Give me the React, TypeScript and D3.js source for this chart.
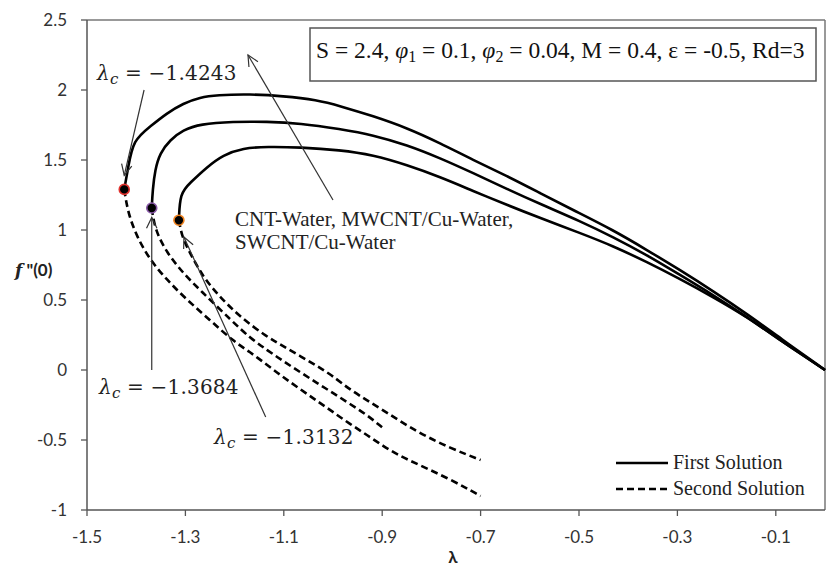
import React from "react";
import * as d3 from "d3";

// λ values and f''(0) for each nanofluid branch
const firstCNT: [number, number][] = [
  [-1.4243, 1.29], [-1.4161, 1.452], [-1.4059, 1.643], [-1.372, 1.738], [-1.338, 1.834],
  [-1.3043, 1.905], [-1.2703, 1.948], [-1.2364, 1.964], [-1.1687, 1.971], [-1.1016, 1.957],
  [-1.0325, 1.929], [-0.9858, 1.886], [-0.9187, 1.814], [-0.8496, 1.729], [-0.7825, 1.621],
  [-0.7154, 1.5], [-0.6463, 1.386], [-0.5793, 1.264], [-0.5122, 1.143], [-0.4309, 1.0],
  [-0.3618, 0.857], [-0.2947, 0.714], [-0.2276, 0.564], [-0.1585, 0.4], [-0.0915, 0.229], [0, 0],
];
const firstMWCNT: [number, number][] = [
  [-1.3684, 1.157], [-1.3665, 1.286], [-1.3618, 1.429], [-1.3516, 1.55], [-1.3313, 1.643],
  [-1.3049, 1.714], [-1.2703, 1.757], [-1.2033, 1.774], [-1.1341, 1.774], [-1.0671, 1.762],
  [-0.9858, 1.721], [-0.9187, 1.679], [-0.8496, 1.607], [-0.7825, 1.514], [-0.7154, 1.407],
  [-0.6463, 1.293], [-0.5793, 1.186], [-0.498, 1.064], [-0.4309, 0.95], [-0.3618, 0.821],
  [-0.2947, 0.679], [-0.2276, 0.536], [-0.1585, 0.379], [-0.0915, 0.214], [0, 0],
];
const firstSWCNT: [number, number][] = [
  [-1.3132, 1.07], [-1.311, 1.264], [-1.2907, 1.336], [-1.2561, 1.45], [-1.2236, 1.536],
  [-1.1829, 1.586], [-1.1341, 1.595], [-1.0671, 1.591], [-0.9858, 1.571], [-0.9187, 1.536],
  [-0.8496, 1.464], [-0.7825, 1.379], [-0.7154, 1.279], [-0.6463, 1.179], [-0.5793, 1.086],
  [-0.498, 0.979], [-0.4309, 0.886], [-0.3618, 0.771], [-0.2947, 0.65], [-0.2276, 0.521],
  [-0.1585, 0.379], [-0.0915, 0.214], [0, 0],
];
const secondCNT: [number, number][] = [
  [-1.4243, 1.29], [-1.4167, 1.121], [-1.3984, 0.95], [-1.372, 0.786], [-1.3374, 0.643],
  [-1.2967, 0.5], [-1.25, 0.357], [-1.2033, 0.207], [-1.1687, 0.129], [-1.1341, 0.036],
  [-1.1016, -0.05], [-1.0671, -0.136], [-1.0325, -0.221], [-1.0, -0.3], [-0.9654, -0.386],
  [-0.9309, -0.464], [-0.8984, -0.543], [-0.8638, -0.614], [-0.8293, -0.671], [-0.7622, -0.779],
  [-0.7, -0.9],
];
const secondMWCNT: [number, number][] = [
  [-1.3684, 1.157], [-1.3618, 1.0], [-1.3374, 0.836], [-1.3049, 0.693], [-1.2703, 0.571],
  [-1.2033, 0.343], [-1.1687, 0.229], [-1.1341, 0.143], [-1.1016, 0.064], [-1.0671, -0.014],
  [-1.0325, -0.093], [-1.0, -0.164], [-0.9654, -0.243], [-0.9309, -0.321], [-0.9, -0.41],
];
const secondSWCNT: [number, number][] = [
  [-1.3132, 1.07], [-1.3069, 0.95], [-1.2907, 0.836], [-1.2642, 0.664], [-1.2297, 0.521],
  [-1.189, 0.379], [-1.1341, 0.236], [-1.1016, 0.171], [-1.0671, 0.1], [-1.0325, 0.029],
  [-1.0, -0.043], [-0.9654, -0.143], [-0.8984, -0.286], [-0.8293, -0.443], [-0.7622, -0.557],
  [-0.7, -0.643],
];

// critical points (λc, f''(0)) and marker outline colours
const criticalLambda = [-1.4243, -1.3684, -1.3132];
const criticalValue = [1.29, 1.157, 1.07];
const criticalColors = ["#e0322e", "#8a5aa8", "#f0821e"];
const criticalLabels = ["−1.4243", "−1.3684", "−1.3132"];

const xTicks = [-1.5, -1.3, -1.1, -0.9, -0.7, -0.5, -0.3, -0.1];
const xTickLabels = ["-1.5", "-1.3", "-1.1", "-0.9", "-0.7", "-0.5", "-0.3", "-0.1"];
const yTicks = [-1, -0.5, 0, 0.5, 1, 1.5, 2, 2.5];
const yTickLabels = ["-1", "-0.5", "0", "0.5", "1", "1.5", "2", "2.5"];

const W = 830;
const H = 568;
const left = 87, right = 825, top = 20, bottom = 510;

const x = d3.scaleLinear().domain([-1.5, 0]).range([left, right]);
const y = d3.scaleLinear().domain([-1, 2.5]).range([bottom, top]);

const line = d3
  .line<[number, number]>()
  .x((d) => x(d[0]))
  .y((d) => y(d[1]))
  .curve(d3.curveBasis);

// thin annotation arrow with an open V head at the tip
function Arrow({ from, to }: { from: [number, number]; to: [number, number] }) {
  const x1 = x(from[0]), y1 = y(from[1]);
  const x2 = x(to[0]), y2 = y(to[1]);
  const ang = Math.atan2(y2 - y1, x2 - x1);
  const len = 12, spread = 0.45;
  const b1 = [x2 - len * Math.cos(ang - spread), y2 - len * Math.sin(ang - spread)];
  const b2 = [x2 - len * Math.cos(ang + spread), y2 - len * Math.sin(ang + spread)];
  return (
    <g stroke="#333" strokeWidth={1.2} fill="none">
      <line x1={x1} y1={y1} x2={x2} y2={y2} />
      <polyline points={`${b1[0]},${b1[1]} ${x2},${y2} ${b2[0]},${b2[1]}`} />
    </g>
  );
}

function LambdaC({ px, py, value }: { px: number; py: number; value: string }) {
  return (
    <text x={px} y={py} fontFamily="'DejaVu Serif', serif" fontSize={20} letterSpacing={0.2} fill="#222">
      <tspan fontStyle="italic">λ</tspan>
      <tspan fontStyle="italic" fontSize={15} dy={4}>c</tspan>
      <tspan dy={-4}>{" = " + value}</tspan>
    </text>
  );
}

export default function App() {
  const firsts = [firstCNT, firstMWCNT, firstSWCNT];
  const seconds = [secondCNT, secondMWCNT, secondSWCNT];
  const tickFont = "Lato, 'Open Sans', sans-serif";
  const serif = "'Liberation Serif', 'Times New Roman', serif";
  return (
    <svg
      width={W}
      height={H}
      viewBox={`0 0 ${W} ${H}`}
      style={{ position: "absolute", left: 0, top: 0, background: "#fff" }}
    >
      <rect x={0} y={0} width={W} height={H} fill="#fff" />

      {/* plot frame */}
      <line x1={left} y1={top} x2={right} y2={top} stroke="#777" strokeWidth={1.5} />
      <line x1={right} y1={top} x2={right} y2={bottom} stroke="#777" strokeWidth={1.5} />
      <line x1={left} y1={top} x2={left} y2={bottom} stroke="#555" strokeWidth={1.5} />
      <line x1={left} y1={bottom} x2={right} y2={bottom} stroke="#555" strokeWidth={1.5} />

      {/* y axis */}
      {yTicks.map((t, i) => (
        <g key={"y" + i}>
          <line x1={left - 6} x2={left} y1={y(t)} y2={y(t)} stroke="#555" strokeWidth={1.3} />
          <text
            x={left - 20}
            y={y(t)}
            dy="0.35em"
            textAnchor="end"
            fontFamily={tickFont}
            fontSize={17}
            fill="#333"
          >
            {yTickLabels[i]}
          </text>
        </g>
      ))}

      {/* x axis */}
      {xTicks.map((t, i) => (
        <g key={"x" + i}>
          <line x1={x(t)} x2={x(t)} y1={bottom} y2={bottom + 6} stroke="#555" strokeWidth={1.3} />
          <text
            x={x(t)}
            y={bottom + 33}
            textAnchor="middle"
            fontFamily={tickFont}
            fontSize={17}
            fill="#333"
          >
            {xTickLabels[i]}
          </text>
        </g>
      ))}

      {/* axis titles */}
      <text x={15} y={276} fontFamily={tickFont} fontSize={17} fontWeight="bold" fill="#222">
        <tspan fontStyle="italic" fontFamily="'DejaVu Serif', serif">f</tspan>
        <tspan>{" \"(0)"}</tspan>
      </text>
      <text x={453} y={563} textAnchor="middle" fontFamily={tickFont} fontSize={17} fontWeight="bold" fill="#222">
        λ
      </text>

      {/* second (lower branch) solutions */}
      {seconds.map((s, i) => (
        <path
          key={"s" + i}
          d={line(s) || ""}
          fill="none"
          stroke="#000"
          strokeWidth={2.6}
          strokeDasharray="7,4"
        />
      ))}

      {/* first (upper branch) solutions */}
      {firsts.map((s, i) => (
        <path key={"f" + i} d={line(s) || ""} fill="none" stroke="#000" strokeWidth={2.6} />
      ))}

      {/* annotation arrows */}
      <Arrow from={[-1.384, 2.0]} to={[-1.4243, 1.39]} />
      <Arrow from={[-1.3684, 0.0]} to={[-1.3684, 1.09]} />
      <Arrow from={[-1.1368, -0.336]} to={[-1.303, 0.95]} />
      <Arrow from={[-1.0, 1.214]} to={[-1.1728, 2.25]} />

      {/* critical points */}
      {criticalLambda.map((l, i) => (
        <circle
          key={"c" + i}
          cx={x(l)}
          cy={y(criticalValue[i])}
          r={5}
          fill="#000"
          stroke={criticalColors[i]}
          strokeWidth={1.6}
        />
      ))}

      {/* critical value labels */}
      <LambdaC px={97} py={80} value={criticalLabels[0]} />
      <LambdaC px={99} py={394} value={criticalLabels[1]} />
      <LambdaC px={214} py={444} value={criticalLabels[2]} />

      {/* nanofluid names */}
      <text fontFamily={serif} fontSize={21} fill="#222">
        <tspan x={235} y={226}>CNT-Water, MWCNT/Cu-Water,</tspan>
        <tspan x={235} y={249}>SWCNT/Cu-Water</tspan>
      </text>

      {/* parameter box */}
      <rect x={310} y={28} width={506} height={53} fill="#fff" stroke="#555" strokeWidth={1.5} />
      <text x={316} y={58} fontFamily={serif} fontSize={23.5} fill="#111">
        <tspan>{"S = 2.4, "}</tspan>
        <tspan fontStyle="italic">φ</tspan>
        <tspan fontSize={16} dy={4}>1</tspan>
        <tspan dy={-4}>{" = 0.1, "}</tspan>
        <tspan fontStyle="italic">φ</tspan>
        <tspan fontSize={16} dy={4}>2</tspan>
        <tspan dy={-4}>{" = 0.04, M = 0.4, ε = -0.5, Rd=3"}</tspan>
      </text>

      {/* legend */}
      <line x1={616} x2={668} y1={463} y2={463} stroke="#000" strokeWidth={2.6} />
      <text x={673} y={469} fontFamily={serif} fontSize={20} fill="#222">
        First Solution
      </text>
      <line x1={616} x2={668} y1={489} y2={489} stroke="#000" strokeWidth={2.6} strokeDasharray="7,4" />
      <text x={673} y={495} fontFamily={serif} fontSize={20} fill="#222">
        Second Solution
      </text>
    </svg>
  );
}
